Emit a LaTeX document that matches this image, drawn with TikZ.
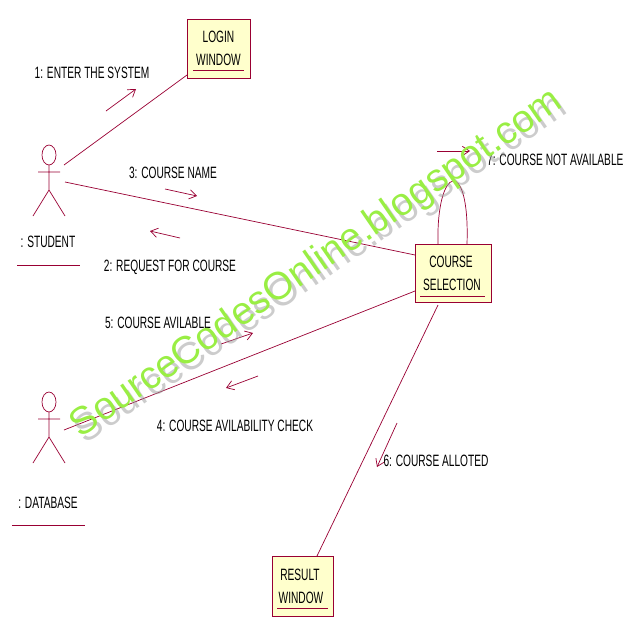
\documentclass[tikz,border=0pt]{standalone}
\usepackage{fontspec}
\setmainfont{Liberation Sans}
\usepackage{graphicx}
\usetikzlibrary{arrows.meta}
\definecolor{mar}{HTML}{990033}
\definecolor{boxf}{HTML}{FFFFCC}
\definecolor{wm}{HTML}{99EE44}
\newcommand{\nt}[1]{\scalebox{0.62}[1]{#1}}
\begin{document}
\begin{tikzpicture}[x=0.03cm,y=-0.03cm,
  ln/.style={draw=mar,line width=0.6pt},
  msg/.style={draw=mar,line width=0.6pt,-{Straight Barb[length=6pt,width=8pt]}},
  obj/.style={draw=mar,fill=boxf,line width=0.8pt,inner sep=0pt},
  lbl/.style={font=\fontsize{14}{16}\selectfont,inner sep=0pt},
  act/.style={draw=mar,line width=0.6pt}]
\useasboundingbox (0,0) rectangle (642,642);
% boxes
\node[obj,minimum width=63*0.03cm,minimum height=59*0.03cm] (login) at (218.5,48.5) {};
\node[lbl] at (218.5,37) {\nt{LOGIN}};
\node[lbl] at (218.5,60) {\nt{WINDOW}};
\draw[mar] (193,70) -- (244,70);
\node[obj,minimum width=76*0.03cm,minimum height=58*0.03cm] (cs) at (453,273) {};
\node[lbl] at (451,262) {\nt{COURSE}};
\node[lbl] at (452,285) {\nt{SELECTION}};
\draw[mar] (420,296) -- (485,296);
\node[obj,minimum width=61*0.03cm,minimum height=60*0.03cm] (rw) at (302.5,586) {};
\node[lbl] at (300,575) {\nt{RESULT}};
\node[lbl] at (301,598) {\nt{WINDOW}};
\draw[mar] (277,608) -- (328,608);
% actors
\foreach \n/\y/\lab/\ly/\ul/\ua/\ub in {stu/155/{: STUDENT}/242/265/17/80, db/402/{: DATABASE}/503/525/12/85}{
  \draw[act] (49,\y) ellipse [x radius=7, y radius=10];
  \draw[act] (49,\y+10) -- (49,\y+35) (38,\y+17) -- (60,\y+17)
    (33,\y+61) -- (49,\y+35) -- (65,\y+61);
  \node[lbl] at (48,\ly) {\nt{\lab}};
  \draw[mar] (\ua,\ul) -- (\ub,\ul);
}
\coordinate (s1) at (64,165); \coordinate (s2) at (65,182);
\coordinate (d1) at (64,430);
\coordinate (l1) at (187,75); \coordinate (c1) at (415,255);
\coordinate (c2) at (415,291); \coordinate (c3) at (438,305); \coordinate (r1) at (317,556);
\draw[ln] (s1) -- (l1);
\draw[ln] (s2) -- (c1);
\draw[ln] (d1) -- (c2);
\draw[ln] (c3) -- (r1);
\draw[ln] (438,244) .. controls (436,165) and (470,155) .. (467,244);
% messages
\draw[msg] (106,111) -- (136,89);
\node[lbl] at (92,73) {\nt{1: ENTER THE SYSTEM}};
\draw[msg] (165,189) -- (197,196);
\node[lbl] at (173,173) {\nt{3: COURSE NAME}};
\draw[msg] (180,238) -- (150,231);
\node[lbl] at (170,267) {\nt{2: REQUEST FOR COURSE}};
\draw[msg] (221,344) -- (253,333);
\node[lbl] at (158,323) {\nt{5: COURSE AVILABLE}};
\draw[msg] (258,376) -- (226,388);
\node[lbl] at (235,426) {\nt{4: COURSE AVILABILITY CHECK}};
\draw[msg] (397,423) -- (377,467);
\node[lbl] at (436,461) {\nt{6: COURSE ALLOTED}};
\draw[msg] (437,151) -- (470,151);
\node[lbl,anchor=west] at (487,160) {\nt{7: COURSE NOT AVAILABLE}};
% watermark
\node[font=\fontsize{33}{38}\selectfont,text=black!40,opacity=0.5,rotate=34.5,inner sep=0pt] at (322,270) {SourceCodesOnline.blogspot.com};
\node[font=\fontsize{33}{38}\selectfont,text=wm,rotate=34.5,inner sep=0pt] at (317,264) {SourceCodesOnline.blogspot.com};
\end{tikzpicture}
\end{document}
